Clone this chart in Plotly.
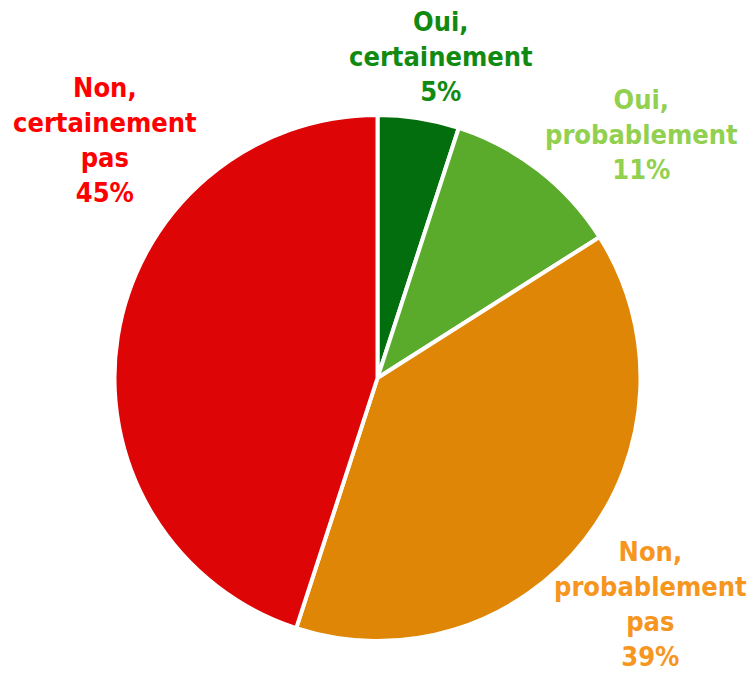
import plotly.graph_objects as go

labels = ["Oui, certainement", "Oui, probablement", "Non, probablement pas", "Non, certainement pas"]
label_lines = [["Oui,", "certainement"], ["Oui,", "probablement"], ["Non,", "probablement", "pas"], ["Non,", "certainement", "pas"]]
values = [5, 11, 39, 45]
slice_colors = ["#036e0e", "#5aab2c", "#df8607", "#dd0505"]
text_colors = ["#118a11", "#92d050", "#f7961e", "#ff0000"]
# label block centers in pixels (x, y)
label_pos = [(441, 57), (641, 134), (650, 604), (105, 140)]

W, H = 754, 675
fig = go.Figure()
fig.add_trace(go.Pie(
    labels=labels, values=values, sort=False, direction="clockwise", rotation=0,
    marker=dict(colors=slice_colors, line=dict(color="white", width=4)),
    textinfo="none", hoverinfo="label+percent", showlegend=False,
    domain=dict(x=[114 / W, 641 / W], y=[(H - 641) / H, (H - 115) / H]),
))

for lines, v, col, (px, py) in zip(label_lines, values, text_colors, label_pos):
    txt = "<br>".join(lines + [f"{v}%"])
    fig.add_annotation(
        x=px / W, y=1 - py / H, xref="paper", yref="paper",
        xanchor="center", yanchor="middle", showarrow=False, align="center",
        text=f"<b>{txt}</b>",
        font=dict(family="DejaVu Sans Condensed, DejaVu Sans", size=27, color=col),
    )

fig.update_layout(width=W, height=H, margin=dict(l=0, r=0, t=0, b=0),
                  paper_bgcolor="white", plot_bgcolor="white")
fig.write_html("out.html", config={"displayModeBar": False},
               post_script="document.body.style.margin='0px';")
